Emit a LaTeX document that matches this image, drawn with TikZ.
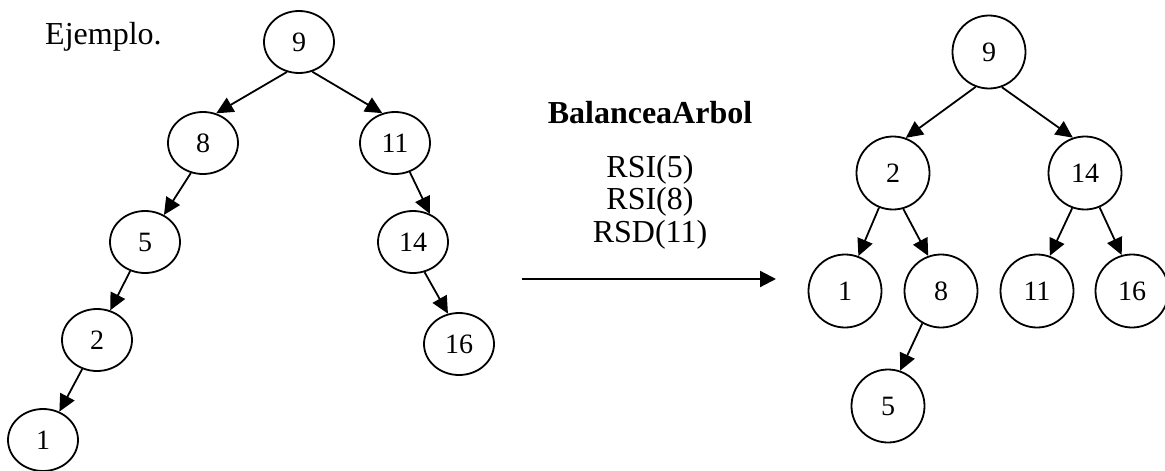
\documentclass[tikz,border=0pt]{standalone}
\usepackage{fontspec}
\setmainfont{Liberation Serif}
\usetikzlibrary{arrows.meta,shapes.geometric}
\begin{document}
\begin{tikzpicture}[x=1pt,y=-1pt,
  oval/.style={draw,ellipse,line width=1.8pt,minimum width=70pt,minimum height=62pt,inner sep=0pt,
    font=\fontsize{28}{32}\selectfont},
  ring/.style={draw,circle,line width=1.8pt,minimum size=73pt,inner sep=0pt,
    font=\fontsize{28}{32}\selectfont},
  link/.style={line width=1.8pt,-{Triangle[length=17pt,width=16pt]}},
  txt/.style={font=\fontsize{32}{36}\selectfont,inner sep=0pt}]
\useasboundingbox (0,0) rectangle (1165,471);

% heading
\node[txt,anchor=base west] (title) at (45,44) {Ejemplo.};

% tree before balancing
\node[oval] (a9)  at (299,42)  {9};
\node[oval] (a8)  at (203,143) {8};
\node[oval] (a11) at (395,143) {11};
\node[oval] (a5)  at (145,242) {5};
\node[oval] (a14) at (413,242) {14};
\node[oval] (a2)  at (97,340)  {2};
\node[oval] (a16) at (459,344) {16};
\node[oval] (a1)  at (43,440)  {1};

\draw[link] (a9.-112)  -- (a8.66);
\draw[link] (a9.-66)   -- (a11.113);
\draw[link] (a8.-112)  -- (a5.55);
\draw[link] (a11.-63)  -- (a14.59);
\draw[link] (a5.-117)  -- (a2.66);
\draw[link] (a2.-117)  -- (a1.60);
\draw[link] (a14.-69)  -- (a16.110);

% operation label and transition arrow
\node[txt,anchor=base,font=\bfseries\fontsize{32}{36}\selectfont] (op) at (650,123) {BalanceaArbol};
\node[txt,anchor=base] (r1) at (650,177) {RSI(5)};
\node[txt,anchor=base] (r2) at (650,209) {RSI(8)};
\node[txt,anchor=base] (r3) at (650,242) {RSD(11)};
\coordinate (s) at (522,279);
\coordinate (t) at (776,279);
\draw[line width=2.2pt,-{Triangle[length=16pt,width=16pt]}] (s) -- (t);

% tree after balancing
\node[ring] (b9)  at (989,52)   {9};
\node[ring] (b2)  at (893,173)  {2};
\node[ring] (b14) at (1085,173) {14};
\node[ring] (b1)  at (845,291)  {1};
\node[ring] (b8)  at (941,291)  {8};
\node[ring] (b11) at (1037,291) {11};
\node[ring] (b16) at (1132,291) {16};
\node[ring] (b5)  at (888,406)  {5};

\draw[link] (b9.-111)  -- (b2.70);
\draw[link] (b9.-70)   -- (b14.109);
\draw[link] (b2.-112)  -- (b1.69);
\draw[link] (b2.-74)   -- (b8.110);
\draw[link] (b14.-110) -- (b11.70);
\draw[link] (b14.-67)  -- (b16.106);
\draw[link] (b8.-120)  -- (b5.71);
\end{tikzpicture}
\end{document}
